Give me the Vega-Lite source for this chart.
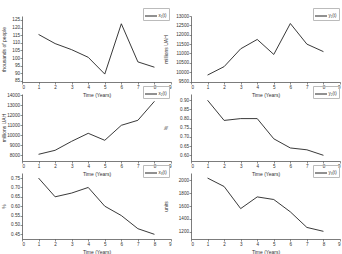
{
  "$schema": "https://vega.github.io/schema/vega-lite/v6.json",
  "autosize": {"type": "pad"},
  "padding": {"left": 0, "top": 7, "right": 0, "bottom": 0},
  "background": "white",
  "bounds": "flush",
  "columns": 2,
  "spacing": {"row": 12, "column": 20},
  "data": {"values": [
    {"s": "x₁(t)", "t": 1, "v": 115.5}, {"s": "x₁(t)", "t": 2, "v": 109.5}, {"s": "x₁(t)", "t": 3, "v": 105.5}, {"s": "x₁(t)", "t": 4, "v": 100.5},
    {"s": "x₁(t)", "t": 5, "v": 89.5}, {"s": "x₁(t)", "t": 6, "v": 122.5}, {"s": "x₁(t)", "t": 7, "v": 97.5}, {"s": "x₁(t)", "t": 8, "v": 94},
    {"s": "y₁(t)", "t": 1, "v": 9850}, {"s": "y₁(t)", "t": 2, "v": 10300}, {"s": "y₁(t)", "t": 3, "v": 11250}, {"s": "y₁(t)", "t": 4, "v": 11750},
    {"s": "y₁(t)", "t": 5, "v": 10950}, {"s": "y₁(t)", "t": 6, "v": 12600}, {"s": "y₁(t)", "t": 7, "v": 11500}, {"s": "y₁(t)", "t": 8, "v": 11100},
    {"s": "x₂(t)", "t": 1, "v": 8100}, {"s": "x₂(t)", "t": 2, "v": 8500}, {"s": "x₂(t)", "t": 3, "v": 9400}, {"s": "x₂(t)", "t": 4, "v": 10200},
    {"s": "x₂(t)", "t": 5, "v": 9500}, {"s": "x₂(t)", "t": 6, "v": 11000}, {"s": "x₂(t)", "t": 7, "v": 11500}, {"s": "x₂(t)", "t": 8, "v": 13400},
    {"s": "y₂(t)", "t": 1, "v": 0.90}, {"s": "y₂(t)", "t": 2, "v": 0.79}, {"s": "y₂(t)", "t": 3, "v": 0.80}, {"s": "y₂(t)", "t": 4, "v": 0.80},
    {"s": "y₂(t)", "t": 5, "v": 0.69}, {"s": "y₂(t)", "t": 6, "v": 0.64}, {"s": "y₂(t)", "t": 7, "v": 0.63}, {"s": "y₂(t)", "t": 8, "v": 0.60},
    {"s": "x₃(t)", "t": 1, "v": 0.75}, {"s": "x₃(t)", "t": 2, "v": 0.65}, {"s": "x₃(t)", "t": 3, "v": 0.67}, {"s": "x₃(t)", "t": 4, "v": 0.70},
    {"s": "x₃(t)", "t": 5, "v": 0.60}, {"s": "x₃(t)", "t": 6, "v": 0.55}, {"s": "x₃(t)", "t": 7, "v": 0.48}, {"s": "x₃(t)", "t": 8, "v": 0.45},
    {"s": "y₃(t)", "t": 1, "v": 2030}, {"s": "y₃(t)", "t": 2, "v": 1900}, {"s": "y₃(t)", "t": 3, "v": 1560}, {"s": "y₃(t)", "t": 4, "v": 1740},
    {"s": "y₃(t)", "t": 5, "v": 1700}, {"s": "y₃(t)", "t": 6, "v": 1510}, {"s": "y₃(t)", "t": 7, "v": 1270}, {"s": "y₃(t)", "t": 8, "v": 1210}
  ]},
  "resolve": {"scale": {"y": "independent", "color": "independent"}, "legend": {"color": "independent"}},
  "concat": [
    {
      "width": 149, "height": 66,
      "transform": [{"filter": "datum.s === 'x₁(t)'"}],
      "mark": {"type": "line", "strokeWidth": 0.9},
      "encoding": {
        "x": {"field": "t", "type": "quantitative", "scale": {"domain": [0, 9]}, "axis": {"values": [0,1,2,3,4,5,6,7,8,9], "title": "Time (Years)"}},
        "y": {"field": "v", "type": "quantitative", "scale": {"domain": [84.3, 127.6], "zero": false, "nice": false}, "axis": {"values": [85,90,95,100,105,110,115,120,125], "format": "d", "title": "thousands of people", "titleX": -16}},
        "color": {"field": "s", "type": "nominal", "scale": {"range": ["#222222"]}, "legend": {"orient": "none", "legendX": 121, "legendY": -8, "title": null}}
      }
    },
    {
      "width": 149, "height": 66,
      "transform": [{"filter": "datum.s === 'y₁(t)'"}],
      "mark": {"type": "line", "strokeWidth": 0.9},
      "encoding": {
        "x": {"field": "t", "type": "quantitative", "scale": {"domain": [0, 9]}, "axis": {"values": [0,1,2,3,4,5,6,7,8,9], "title": "Time (Years)"}},
        "y": {"field": "v", "type": "quantitative", "scale": {"domain": [9480, 13000], "zero": false, "nice": false}, "axis": {"values": [9500,10000,10500,11000,11500,12000,12500,13000], "format": "d", "title": "millions UAH", "titleX": -23}},
        "color": {"field": "s", "type": "nominal", "scale": {"range": ["#222222"]}, "legend": {"orient": "none", "legendX": 122, "legendY": -8, "title": null}}
      }
    },
    {
      "width": 149, "height": 67,
      "transform": [{"filter": "datum.s === 'x₂(t)'"}],
      "mark": {"type": "line", "strokeWidth": 0.9},
      "encoding": {
        "x": {"field": "t", "type": "quantitative", "scale": {"domain": [0, 9]}, "axis": {"values": [0,1,2,3,4,5,6,7,8,9], "title": "Time (Years)"}},
        "y": {"field": "v", "type": "quantitative", "scale": {"domain": [7430, 14130], "zero": false, "nice": false}, "axis": {"values": [8000,9000,10000,11000,12000,13000,14000], "format": "d", "title": "millions UAH", "titleX": -16}},
        "color": {"field": "s", "type": "nominal", "scale": {"range": ["#222222"]}, "legend": {"orient": "none", "legendX": 121, "legendY": -8, "title": null}}
      }
    },
    {
      "width": 149, "height": 67,
      "transform": [{"filter": "datum.s === 'y₂(t)'"}],
      "mark": {"type": "line", "strokeWidth": 0.9},
      "encoding": {
        "x": {"field": "t", "type": "quantitative", "scale": {"domain": [0, 9]}, "axis": {"values": [0,1,2,3,4,5,6,7,8,9], "title": "Time (Years)"}},
        "y": {"field": "v", "type": "quantitative", "scale": {"domain": [0.569, 0.934], "zero": false, "nice": false}, "axis": {"values": [0.6,0.65,0.7,0.75,0.8,0.85,0.9], "format": ".2f", "title": "%", "titleX": -23}},
        "color": {"field": "s", "type": "nominal", "scale": {"range": ["#222222"]}, "legend": {"orient": "none", "legendX": 122, "legendY": -8, "title": null}}
      }
    },
    {
      "width": 149, "height": 66,
      "transform": [{"filter": "datum.s === 'x₃(t)'"}],
      "mark": {"type": "line", "strokeWidth": 0.9},
      "encoding": {
        "x": {"field": "t", "type": "quantitative", "scale": {"domain": [0, 9]}, "axis": {"values": [0,1,2,3,4,5,6,7,8,9], "title": "Time (Years)"}},
        "y": {"field": "v", "type": "quantitative", "scale": {"domain": [0.425, 0.777], "zero": false, "nice": false}, "axis": {"values": [0.45,0.5,0.55,0.6,0.65,0.7,0.75], "format": ".2f", "title": "%", "titleX": -16}},
        "color": {"field": "s", "type": "nominal", "scale": {"range": ["#222222"]}, "legend": {"orient": "none", "legendX": 121, "legendY": -8, "title": null}}
      }
    },
    {
      "width": 149, "height": 66,
      "transform": [{"filter": "datum.s === 'y₃(t)'"}],
      "mark": {"type": "line", "strokeWidth": 0.9},
      "encoding": {
        "x": {"field": "t", "type": "quantitative", "scale": {"domain": [0, 9]}, "axis": {"values": [0,1,2,3,4,5,6,7,8,9], "title": "Time (Years)"}},
        "y": {"field": "v", "type": "quantitative", "scale": {"domain": [1092, 2108], "zero": false, "nice": false}, "axis": {"values": [1200,1400,1600,1800,2000], "format": "d", "title": "units", "titleX": -23}},
        "color": {"field": "s", "type": "nominal", "scale": {"range": ["#222222"]}, "legend": {"orient": "none", "legendX": 122, "legendY": -8, "title": null}}
      }
    }
  ],
  "config": {
    "font": "Liberation Sans",
    "view": {"stroke": null},
    "axis": {"grid": false, "labelFontSize": 4.6, "titleFontSize": 5, "titleFontWeight": "normal", "labelColor": "#333", "titleColor": "#333", "domainColor": "#444", "tickColor": "#444", "tickSize": 2, "labelPadding": 0.5, "titlePadding": 3, "domainWidth": 0.7, "tickWidth": 0.6},
    "legend": {"labelFontSize": 4.5, "symbolType": "stroke", "symbolSize": 144, "symbolStrokeWidth": 1, "strokeColor": "#bbb", "padding": 1.5, "labelOffset": 1, "rowPadding": 0, "labelColor": "#333"}
  }
}
